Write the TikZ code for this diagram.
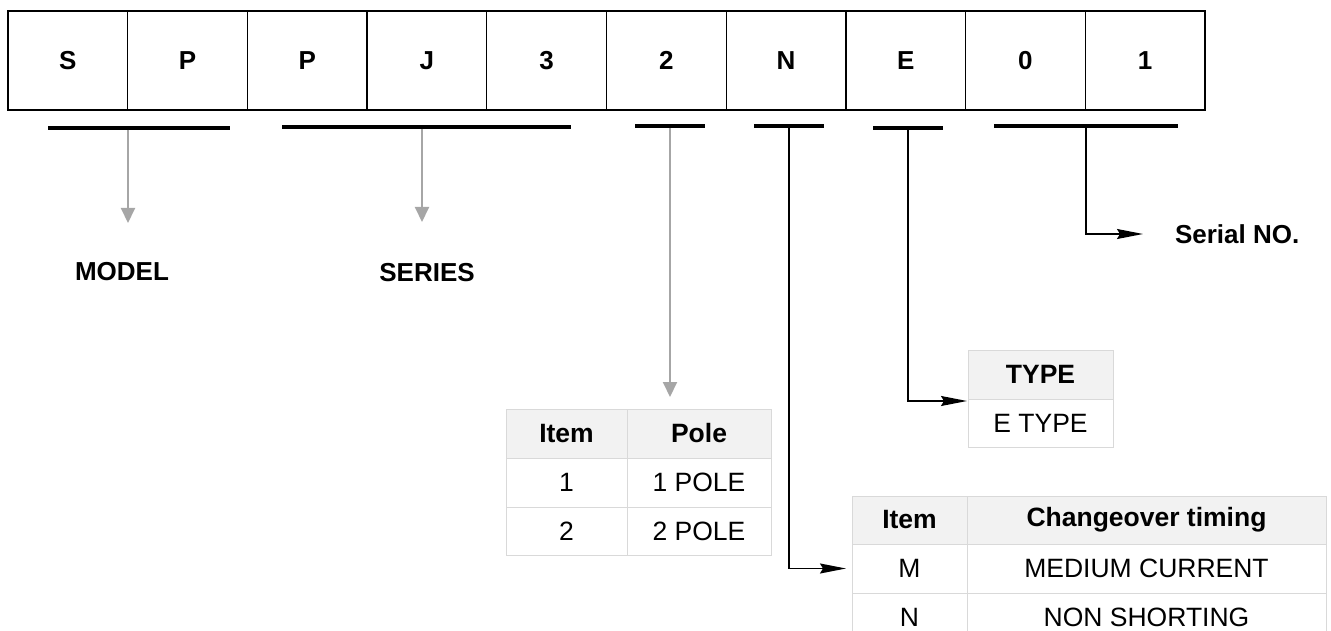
\documentclass[tikz,border=0pt]{standalone}
\usepackage{fontspec}
\setmainfont{Liberation Sans}
\usetikzlibrary{arrows.meta,positioning}

\definecolor{arrowgray}{HTML}{A6A6A6}
\definecolor{tableline}{HTML}{D9D9D9}
\definecolor{headfill}{HTML}{F2F2F2}

\begin{document}
\begin{tikzpicture}[x=1pt,y=-1pt,
  every node/.style={font=\fontsize{26.5}{30}\selectfont, inner sep=0pt, outer sep=0pt},
  codecell/.style={draw, line width=1.3pt, minimum width=119.7pt, minimum height=99pt,
    font=\fontsize{26}{30}\selectfont\bfseries},
  ubar/.style={fill=black, minimum height=3.7pt},
  lbl/.style={font=\fontsize{26}{30}\selectfont\bfseries},
  tcell/.style={draw=tableline, line width=1pt},
  thead/.style={tcell, fill=headfill, font=\fontsize{26.5}{30}\selectfont\bfseries},
  grayarr/.style={draw=arrowgray, line width=2pt, -{Triangle[width=14pt,length=15pt]}},
  blackarr/.style={line width=1.5pt, -{Stealth[length=26pt,width=10pt,inset=3pt]}}]
\useasboundingbox (0,0) rectangle (1331,631);
\clip (0,0) rectangle (1331,631);

% part number
\node[codecell] (cS) at (67.85,60.5) {S};
\node[codecell, right=0pt of cS] (cP) {P};
\node[codecell, right=0pt of cP] (cP2) {P};
\node[codecell, right=0pt of cP2] (cJ) {J};
\node[codecell, right=0pt of cJ] (c3) {3};
\node[codecell, right=0pt of c3] (c2) {2};
\node[codecell, right=0pt of c2] (cN) {N};
\node[codecell, right=0pt of cN] (cE) {E};
\node[codecell, right=0pt of cE] (c0) {0};
\node[codecell, right=0pt of c0] (c1) {1};

% bars under the groups
\node[ubar, minimum width=182pt] (bmodel) at (139,128) {};
\node[ubar, minimum width=289pt] (bseries) at (426.5,127) {};
\node[ubar, minimum width=70pt] (bpole) at (670,126) {};
\node[ubar, minimum width=70pt] (btiming) at (789,126) {};
\node[ubar, minimum width=70pt] (btype) at (908,128) {};
\node[ubar, minimum width=184pt] (bserial) at (1086,126) {};

% labels
\node[lbl] (model) at (122,272) {MODEL};
\node[lbl] (series) at (427,273) {SERIES};
\node[lbl, anchor=west] (serial) at (1175,234) {Serial NO.};

% pole table
\node[thead, minimum width=121pt, minimum height=49pt] (pitem) at (566.5,433.5) {Item};
\node[thead, minimum width=144pt, minimum height=49pt, right=0pt of pitem] (ppole) {Pole};
\node[tcell, minimum width=121pt, minimum height=49pt, below=0pt of pitem] (pone) {1};
\node[tcell, minimum width=144pt, minimum height=49pt, right=0pt of pone] (ponepole) {1 POLE};
\node[tcell, minimum width=121pt, minimum height=48pt, below=0pt of pone] (ptwo) {2};
\node[tcell, minimum width=144pt, minimum height=48pt, right=0pt of ptwo] (ptwopole) {2 POLE};

% type table
\node[thead, minimum width=145pt, minimum height=49pt] (thtype) at (1040.5,374.5) {TYPE};
\node[tcell, minimum width=145pt, minimum height=48pt, below=0pt of thtype] (etype) {E TYPE};

% changeover table
\node[thead, minimum width=115pt, minimum height=48pt] (citem) at (909.5,520) {Item};
\node[thead, minimum width=359pt, minimum height=48pt, right=0pt of citem] (ctiming) {Changeover timing};
\node[tcell, minimum width=115pt, minimum height=49pt, below=0pt of citem] (cm) {M};
\node[tcell, minimum width=359pt, minimum height=49pt, right=0pt of cm] (cmedium) {MEDIUM CURRENT};
\node[tcell, minimum width=115pt, minimum height=49pt, below=0pt of cm] (cn) {N};
\node[tcell, minimum width=359pt, minimum height=49pt, right=0pt of cn] (cnon) {NON SHORTING};

% connectors
\coordinate (mtip) at (128,223);
\coordinate (stip) at (422,222);
\draw[grayarr] (bmodel.south -| mtip) -- (mtip);
\draw[grayarr] (bseries.south -| stip) -- (stip);
\draw[grayarr, shorten >=12pt] (bpole.south) -- (bpole.south |- pitem.north);
\draw[blackarr, shorten >=6pt] (btiming.south) |- (cm.west);
\draw[blackarr, shorten >=1pt] (btype.south) |- ([yshift=-2pt]etype.north west);
\draw[blackarr, shorten >=32pt] (bserial.south) |- (serial.west);
\end{tikzpicture}
\end{document}
